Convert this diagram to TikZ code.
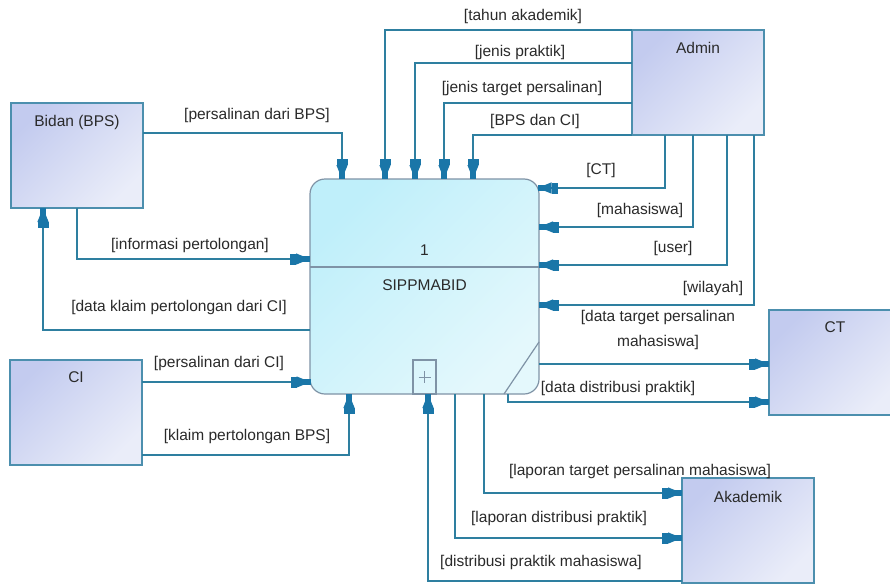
\documentclass[tikz,border=0pt]{standalone}
\usepackage{fontspec}
\setmainfont{Liberation Sans}
\usetikzlibrary{arrows.meta,calc}
\definecolor{linec}{HTML}{2E7FA0}
\definecolor{tipc}{HTML}{1A76A8}
\definecolor{boxb}{HTML}{4C8FAE}
\definecolor{boxl}{HTML}{C3CBEF}
\definecolor{boxr}{HTML}{EAEDF9}
\definecolor{procb}{HTML}{7F93A6}
\definecolor{procl}{HTML}{BFEFFA}
\definecolor{procr}{HTML}{E4F8FC}
\definecolor{txt}{HTML}{2A2A2A}
\begin{document}
\begin{tikzpicture}[x=1pt,y=-1pt,
  ent/.style={draw=boxb, line width=1.2pt, top color=boxl, bottom color=boxr, shading angle=45,
    minimum width=132pt, minimum height=105pt, inner sep=0pt, outer sep=0pt, anchor=north west},
  proc/.style={draw=procb, line width=1.2pt, top color=procl, bottom color=procr, shading angle=45,
    rounded corners=15pt, minimum width=229pt, minimum height=215pt, inner sep=0pt, outer sep=0pt, anchor=north west},
  flow/.style={draw=linec, line width=1.2pt,
    -{Rectangle[length=6pt,width=11pt,fill=tipc,color=tipc]
      Triangle[length=14pt,width=11pt,fill=tipc,color=tipc,sep=-10pt]
      Rectangle[length=10pt,width=6pt,fill=tipc,color=tipc]}},
  lbl/.style={font=\fontsize{15.5}{25}\selectfont, text=txt, inner sep=0pt, align=center}
]
\useasboundingbox (0,0) rectangle (890,586);
\fill[white] (0,0) rectangle (890,586);

% entities
\node[ent] (admin) at (632,30) {};
\node[ent] (bidan) at (11,103) {};
\node[ent] (ci) at (10,360) {};
\node[ent] (ct) at (769,310) {};
\node[ent] (akad) at (682,478) {};
\node[lbl] (adminT) at ($(admin.north)+(0,18)$) {Admin};
\node[lbl] (bidanT) at ($(bidan.north)+(0,19)$) {Bidan (BPS)};
\node[lbl] (ciT) at ($(ci.north)+(0,17)$) {CI};
\node[lbl] (ctT) at ($(ct.north)+(0,17)$) {CT};
\node[lbl] (akadT) at ($(akad.north)+(0,19)$) {Akademik};

% process
\node[proc] (p) at (310,179) {};
\draw[procb, line width=1.2pt] ($(p.north west)+(0,88)$) -- ($(p.north east)+(0,88)$);
\node[lbl] (pnum) at ($(p.north)+(0,71)$) {1};
\node[lbl] (pname) at ($(p.north)+(0,106)$) {SIPPMABID};
\draw[procb, line width=1.2pt] ($(p.south)+(-11.5,0)$) rectangle ($(p.south)+(11.5,-34)$);
\draw[procb, line width=0.9pt] ($(p.south)+(-6,-17)$) -- ($(p.south)+(6,-17)$)
  ($(p.south)+(0,-23)$) -- ($(p.south)+(0,-11)$);
\draw[procb, line width=1.2pt] ($(p.north east)+(0,163)$) -- ($(p.south east)+(-35,0)$);

% from Admin
\draw[flow] (admin.north west) -| ($(p.north west)+(75,0)$);
\draw[flow] ($(admin.north west)+(0,33)$) -| ($(p.north west)+(105,0)$);
\draw[flow] ($(admin.north west)+(0,73)$) -| ($(p.north west)+(134,0)$);
\draw[flow] (admin.south west) -| ($(p.north west)+(163,0)$);
\draw[flow] ($(admin.south west)+(33,0)$) |- ($(p.north east)+(-1.5,9)$);
\draw[flow] ($(admin.south west)+(61,0)$) |- ($(p.north east)+(0,48)$);
\draw[flow] ($(admin.south west)+(95,0)$) |- ($(p.north east)+(0,86)$);
\draw[flow] ($(admin.south west)+(122,0)$) |- ($(p.north east)+(0,126)$);
\node[lbl] (l1) at (523,16) {[tahun akademik]};
\node[lbl] (l2) at (520,52) {[jenis praktik]};
\node[lbl] (l3) at (522,88) {[jenis target persalinan]};
\node[lbl] (l4) at (535,121) {[BPS dan CI]};
\node[lbl] (l5) at (601,170) {[CT]};
\node[lbl] (l6) at (640,210) {[mahasiswa]};
\node[lbl] (l7) at (673,248) {[user]};
\node[lbl] (l8) at (713,288) {[wilayah]};

% Bidan
\draw[flow] ($(bidan.north east)+(0,30)$) -| ($(p.north west)+(32,0)$);
\draw[flow] ($(bidan.south west)+(66,0)$) |- ($(p.north west)+(0,80)$);
\draw[flow] ($(p.north west)+(0,151)$) -| ($(bidan.south west)+(32,0)$);
\node[lbl] (l9) at (257,115) {[persalinan dari BPS]};
\node[lbl] (l10) at (190,245) {[informasi pertolongan]};
\node[lbl] (l11) at (179,307) {[data klaim pertolongan dari CI]};

% CI
\draw[flow] ($(ci.north east)+(0,22)$) -- ($(p.south west)+(0.5,-12)$);
\draw[flow] ($(ci.north east)+(0,95)$) -| ($(p.south west)+(39,0)$);
\node[lbl] (l12) at (219,363) {[persalinan dari CI]};
\node[lbl] (l13) at (247,436) {[klaim pertolongan BPS]};

% Akademik
\draw[flow] ($(akad.south west)+(0,-2)$) -| ($(p.south west)+(118,0)$);
\draw[flow] ($(p.south west)+(145,0)$) |- ($(akad.north west)+(0,60)$);
\draw[flow] ($(p.south west)+(174,0)$) |- ($(akad.north west)+(0,15)$);
\node[lbl] (l14) at (541,562) {[distribusi praktik mahasiswa]};
\node[lbl] (l15) at (559,518) {[laporan distribusi praktik]};
\node[lbl] (l16) at (640,471) {[laporan target persalinan mahasiswa]};

% CT
\draw[flow] ($(p.north east)+(0,185)$) -- ($(ct.north west)+(0,54)$);
\draw[flow] ($(p.south west)+(198,0)$) |- ($(ct.north west)+(0,92)$);
\node[lbl] (l17) at (658,330) {[data target persalinan\\mahasiswa]};
\node[lbl] (l18) at (618,388) {[data distribusi praktik]};
\end{tikzpicture}
\end{document}
